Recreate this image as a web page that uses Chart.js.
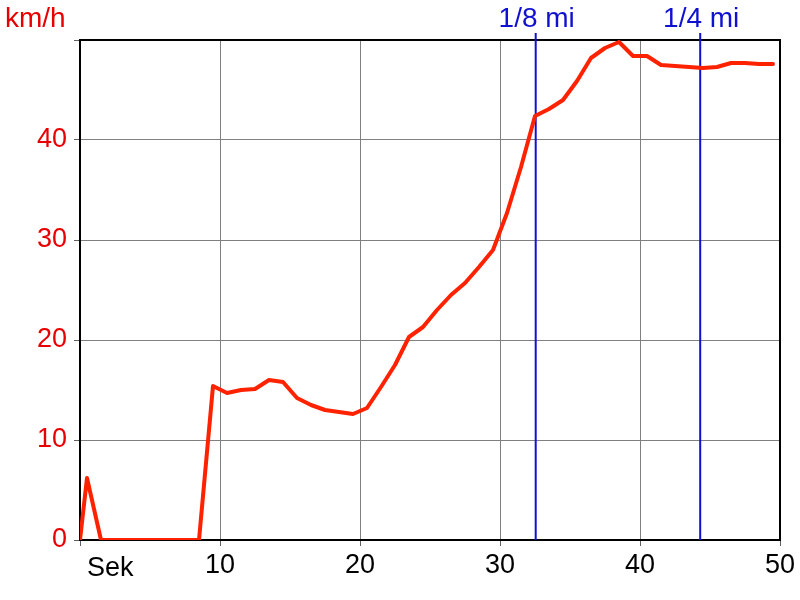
<!DOCTYPE html>
<html>
<head>
<meta charset="utf-8">
<script src="https://cdn.jsdelivr.net/npm/chart.js@4"></script>
<style>
html,body{margin:0;padding:0;background:#fff;}
#wrap{width:800px;height:600px;}
</style>
</head>
<body>
<div id="wrap"><canvas id="c" width="800" height="600"></canvas></div>
<script>
const times = [0,0.5,1.5,2.5,3.5,4.5,5.5,6.5,7.5,8.5,9.5,10.5,11.5,12.5,13.5,14.5,15.5,16.5,17.5,18.5,19.5,20.5,21.5,22.5,23.5,24.5,25.5,26.5,27.5,28.5,29.5,30.5,31.5,32.5,33.5,34.5,35.5,36.5,37.5,38.5,39.5,40.5,41.5,42.5,43.5,44.5,45.5,46.5,47.5,48.5,49.5];
const speeds = [0,6.2,0,0,0,0,0,0,0,0,15.4,14.7,15.0,15.1,16.0,15.8,14.2,13.5,13.0,12.8,12.6,13.2,15.3,17.5,20.3,21.3,23.0,24.5,25.7,27.3,29.0,32.7,37.3,42.4,43.1,44.0,45.9,48.2,49.2,49.8,48.4,48.4,47.5,47.4,47.3,47.2,47.3,47.7,47.7,47.6,47.6];
const markerTimes = [32.55, 44.3];
const markerLabels = ['1/8 mi', '1/4 mi'];
const xTickValues = [0,10,20,30,40,50];
const xTickLabels = ['Sek','10','20','30','40','50'];
const yTickValues = [0,10,20,30,40,50];
const yTickLabels = ['0','10','20','30','40',''];
const yUnit = 'km/h';

const FONT = "'Liberation Sans', Arial, sans-serif";
const RED_TEXT = '#e80000';
const BLUE = '#1010d0';

const speedData = times.map((t,i)=>({x:t,y:speeds[i]}));
const markerSets = markerTimes.map(t=>({
  data:[{x:t,y:0},{x:t,y:50.7}],
  borderColor:BLUE, borderWidth:2, pointRadius:0, tension:0, clip:false
}));

const overlay = {
  id:'overlay',
  beforeDatasetsDraw(chart){
    const ca = chart.chartArea, ctx = chart.ctx;
    ctx.save();
    ctx.strokeStyle = '#000';
    ctx.lineWidth = 2;
    ctx.strokeRect(ca.left, ca.top, ca.right-ca.left, ca.bottom-ca.top);
    ctx.restore();
  },
  afterDraw(chart){
    const ctx = chart.ctx, xs = chart.scales.x;
    ctx.save();
    ctx.font = '28px ' + FONT;
    ctx.textBaseline = 'alphabetic';
    ctx.fillStyle = RED_TEXT;
    ctx.textAlign = 'left';
    ctx.fillText(yUnit, 5, 27);
    ctx.fillStyle = BLUE;
    ctx.textAlign = 'center';
    markerTimes.forEach((t,i)=>{
      ctx.fillText(markerLabels[i], xs.getPixelForValue(t)+1, 27);
    });
    ctx.font = '27px ' + FONT;
    ctx.fillStyle = '#000';
    ctx.textAlign = 'left';
    ctx.fillText(xTickLabels[0], xs.getPixelForValue(xTickValues[0])+7, 576);
    ctx.restore();
  }
};

new Chart(document.getElementById('c'), {
  type:'line',
  data:{
    datasets:[
      {data:speedData, borderColor:'#ff2200', borderWidth:4, pointRadius:0, tension:0, borderJoinStyle:'round', borderCapStyle:'round'},
      ...markerSets
    ]
  },
  options:{
    responsive:false,
    animation:false,
    events:[],
    layout:{padding:{top:40,right:20,left:0,bottom:0}},
    plugins:{legend:{display:false},tooltip:{enabled:false}},
    scales:{
      x:{
        type:'linear', min:0, max:50,
        afterBuildTicks(s){ s.ticks = xTickValues.map(v=>({value:v})); },
        afterFit(s){ s.height = 60; s.paddingLeft = 0; s.paddingRight = 0; },
        grid:{color:'#808080', lineWidth:1, tickLength:6, tickColor:'#606060'},
        border:{display:false},
        ticks:{
          maxRotation:0, autoSkip:false, padding:3, color:'#000',
          font:{family:FONT, size:27},
          callback(v){ const i = xTickValues.indexOf(v); return i>0 ? xTickLabels[i] : ''; }
        }
      },
      y:{
        type:'linear', min:0, max:50,
        afterBuildTicks(s){ s.ticks = yTickValues.map(v=>({value:v})); },
        afterFit(s){ s.width = 80; s.paddingTop = 0; s.paddingBottom = 0; },
        grid:{color:'#808080', lineWidth:1, tickLength:6, tickColor:'#606060'},
        border:{display:false},
        ticks:{
          padding:7, color:RED_TEXT,
          font:{family:FONT, size:27},
          callback(v){ const i = yTickValues.indexOf(v); return i>=0 ? yTickLabels[i] : ''; }
        }
      }
    }
  },
  plugins:[overlay]
});
</script>
</body>
</html>
